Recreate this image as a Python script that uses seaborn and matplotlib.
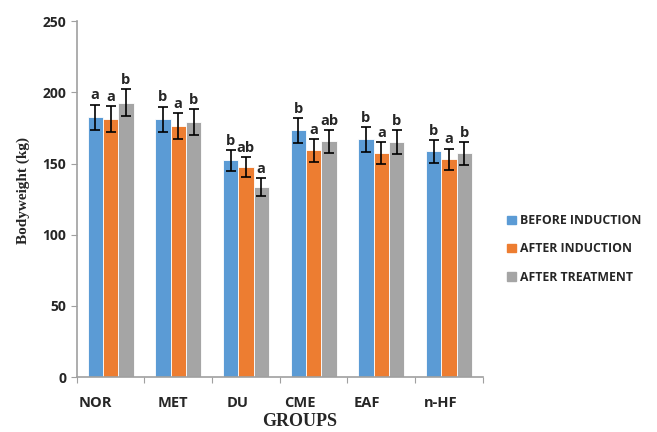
import numpy as np
import pandas as pd
import seaborn as sns
import matplotlib.pyplot as plt

# data
groups = ['NOR', 'MET', 'DU', 'CME', 'EAF', 'n-HF']
series = ['BEFORE INDUCTION', 'AFTER INDUCTION', 'AFTER TREATMENT']
before = [182.4, 181.0, 152.2, 173.2, 167.1, 158.7]
after_ind = [181.4, 176.5, 147.7, 159.4, 157.1, 152.9]
after_trt = [192.7, 179.0, 133.4, 165.5, 164.8, 157.1]
err_before = [9.0, 9.0, 7.5, 8.5, 8.7, 8.0]
err_after_ind = [9.0, 9.0, 7.0, 8.0, 7.7, 7.6]
err_after_trt = [9.5, 9.0, 6.5, 8.2, 8.4, 8.0]
let_before = ['a', 'b', 'b', 'b', 'b', 'b']
let_after_ind = ['a', 'a', 'ab', 'a', 'a', 'a']
let_after_trt = ['b', 'b', 'a', 'ab', 'b', 'b']

df = pd.DataFrame({
    'group': groups * 3,
    'series': sum([[s] * len(groups) for s in series], []),
    'value': before + after_ind + after_trt,
})
errs = [err_before, err_after_ind, err_after_trt]
letters = [let_before, let_after_ind, let_after_trt]
colors = ['#5B9BD5', '#ED7D31', '#A5A5A5']

sns.set_style('white')
plt.rcParams['font.family'] = ['Open Sans', 'DejaVu Sans']

fig = plt.figure(figsize=(6.57, 4.32), dpi=100)
ax = fig.add_axes([0.1167, 0.1273, 0.6183, 0.8237])

sns.barplot(data=df, x='group', y='value', hue='series', palette=colors,
            width=0.68, gap=0, errorbar=None, saturation=1,
            edgecolor='white', linewidth=0.6, ax=ax, legend=False)

bar_conts = list(ax.containers)
for j, cont in enumerate(bar_conts):
    xs = [b.get_x() + b.get_width() / 2 for b in cont]
    hs = [b.get_height() for b in cont]
    ax.errorbar(xs, hs, yerr=errs[j], fmt='none', ecolor='black',
                elinewidth=1.2, capsize=3.5, capthick=1.2)
    for x, h, e, t in zip(xs, hs, errs[j], letters[j]):
        ax.annotate(t, (x, h + e), xytext=(0, 1.5), textcoords='offset points',
                    ha='center', va='bottom', fontsize=10.5, fontweight='bold')

ax.set_ylim(0, 250)
ax.set_xlim(-0.5, len(groups) - 0.5)
ax.set_yticks(np.arange(0, 251, 50))
ax.set_xticks(np.arange(-0.5, len(groups), 1))
ax.set_xticklabels([])
ax.tick_params(axis='x', which='major', length=4, color='#a0a0a0', direction='out', bottom=True)
ax.tick_params(axis='y', length=4, color='#a0a0a0', direction='out', left=True,
               labelsize=10)
for lbl in ax.get_yticklabels():
    lbl.set_fontweight('bold')

# group labels sit a bit left of the bar groups, as in the original
label_shift = [-0.23, -0.08, -0.13, -0.20, -0.21, -0.13]
ax.set_xticks(np.arange(len(groups)) + np.array(label_shift), minor=True)
ax.set_xticklabels(groups, minor=True, fontsize=10.5, fontweight='bold')
ax.tick_params(axis='x', which='minor', length=0, pad=14)

sns.despine(ax=ax, top=True, right=True)
for sp in ['left', 'bottom']:
    ax.spines[sp].set_color('#a0a0a0')
    ax.spines[sp].set_linewidth(1.2)

ax.set_xlabel('')
ax.set_ylabel('Bodyweight (kg)', family='Liberation Serif', fontweight='bold', fontsize=11)
ax.yaxis.set_label_coords(-0.115, 0.525)
fig.text(300 / 657, 1 - 422 / 432, 'GROUPS', family='Liberation Serif', fontweight='bold',
         fontsize=13, ha='center', va='center')

handles = [plt.Rectangle((0, 0), 1, 1, color=c) for c in colors]
fig.legend(handles, series, loc='center left', bbox_to_anchor=(496 / 657, 1 - 249 / 432),
           frameon=False, handlelength=0.7, handleheight=0.7, handletextpad=0.4,
           labelspacing=1.25, prop={'weight': 'bold', 'size': 8.8})

fig.savefig('out.png', dpi=100)
